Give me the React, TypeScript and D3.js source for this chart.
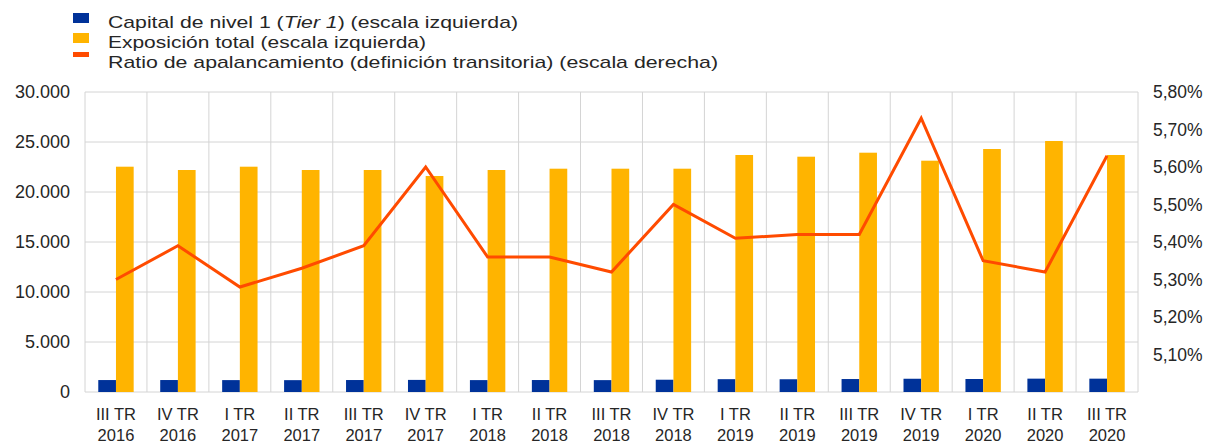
import React from 'react';
import * as d3 from 'd3';

const quarters = [
  ['III TR', '2016'], ['IV TR', '2016'], ['I TR', '2017'], ['II TR', '2017'],
  ['III TR', '2017'], ['IV TR', '2017'], ['I TR', '2018'], ['II TR', '2018'],
  ['III TR', '2018'], ['IV TR', '2018'], ['I TR', '2019'], ['II TR', '2019'],
  ['III TR', '2019'], ['IV TR', '2019'], ['I TR', '2020'], ['II TR', '2020'],
  ['III TR', '2020'],
];
const tier1 = [1195, 1197, 1190, 1185, 1197, 1210, 1190, 1197, 1188, 1228, 1282, 1275, 1297, 1325, 1300, 1335, 1334];
const exposure = [22530, 22200, 22530, 22200, 22200, 21600, 22200, 22330, 22330, 22330, 23700, 23530, 23930, 23130, 24300, 25100, 23700];
const ratio = [5.3, 5.39, 5.28, 5.33, 5.39, 5.6, 5.36, 5.36, 5.32, 5.5, 5.41, 5.42, 5.42, 5.73, 5.35, 5.32, 5.63];

const leftTicks = [0, 5000, 10000, 15000, 20000, 25000, 30000];
const rightTicks = [5.1, 5.2, 5.3, 5.4, 5.5, 5.6, 5.7, 5.8];

const legendItems = [
  { key: 'tier1', color: '#003299', kind: 'box' },
  { key: 'exp', color: '#ffb400', kind: 'box' },
  { key: 'ratio', color: '#ff4b00', kind: 'line' },
];

const W = 1212;
const H = 443;
const margin = { top: 92, right: 74, bottom: 51, left: 85 };
const FONT = '"Liberation Sans", Arial, sans-serif';

export default function App() {
  const innerW = W - margin.left - margin.right;
  const innerH = H - margin.top - margin.bottom;
  const labels = quarters.map(q => q.join(' '));

  const x = d3.scaleBand().domain(labels).range([0, innerW]);
  const xs = d3.scaleBand().domain(['tier1', 'exp']).range([0, x.bandwidth()]).paddingOuter(0.75).paddingInner(0);
  const yL = d3.scaleLinear().domain([0, 30000]).range([innerH, 0]);
  const yR = d3.scaleLinear().domain([5.0, 5.8]).range([innerH, 0]);

  const fmtL = (v: number) => d3.format(',')(v).replace(/,/g, '.');
  const fmtR = (v: number) => v.toFixed(2).replace('.', ',') + '%';

  const line = d3.line<number>()
    .x((_, i) => x(labels[i])! + x.bandwidth() / 2)
    .y(d => yR(d));

  const grid = '#d4d4d4';
  const txt = '#262626';

  return (
    <svg width={W} height={H} style={{ position: 'absolute', left: 0, top: 0, background: '#fff' }}
      fontFamily={FONT}>
      {/* legend */}
      <g>
        {legendItems.map((it, i) => (
          <g key={it.key} transform={`translate(73,${i * 20})`}>
            {it.kind === 'box'
              ? <rect x={0} y={13} width={16} height={10} fill={it.color} />
              : <rect x={0} y={12} width={16} height={5} fill={it.color} />}
          </g>
        ))}
        <text x={108} y={28} fontSize={17} fill={txt} textLength={410} lengthAdjust="spacingAndGlyphs">
          Capital de nivel 1 (<tspan fontStyle="italic">Tier 1</tspan>) (escala izquierda)
        </text>
        <text x={108} y={48} fontSize={17} fill={txt} textLength={318} lengthAdjust="spacingAndGlyphs">Exposición total (escala izquierda)</text>
        <text x={108} y={68} fontSize={17} fill={txt} textLength={610} lengthAdjust="spacingAndGlyphs">Ratio de apalancamiento (definición transitoria) (escala derecha)</text>
      </g>

      <g transform={`translate(${margin.left},${margin.top})`}>
        {/* grid */}
        {leftTicks.map(t => (
          <line key={'h' + t} x1={0} x2={innerW} y1={yL(t)} y2={yL(t)} stroke={grid} strokeWidth={1} />
        ))}
        {labels.map((l, i) => (
          <line key={'v' + i} x1={x(l)} x2={x(l)} y1={0} y2={innerH} stroke={grid} strokeWidth={1} />
        ))}
        <line x1={innerW} x2={innerW} y1={0} y2={innerH} stroke={grid} strokeWidth={1} />

        {/* bars */}
        {labels.map((l, i) => (
          <g key={'b' + i} transform={`translate(${x(l)},0)`}>
            <rect x={xs('tier1')} y={yL(tier1[i])} width={xs.bandwidth()} height={innerH - yL(tier1[i])} fill="#003299" />
            <rect x={xs('exp')} y={yL(exposure[i])} width={xs.bandwidth()} height={innerH - yL(exposure[i])} fill="#ffb400" />
          </g>
        ))}

        {/* ratio line */}
        <path d={line(ratio) || ''} fill="none" stroke="#ff4b00" strokeWidth={3} strokeLinejoin="miter" />

        {/* left axis */}
        {leftTicks.map(t => (
          <text key={'l' + t} x={-15} y={yL(t) + 6} fontSize={18} textAnchor="end" fill={txt}>{fmtL(t)}</text>
        ))}
        {/* right axis */}
        {rightTicks.map(t => (
          <text key={'r' + t} x={innerW + 15} y={yR(t) + 6} fontSize={17.5} textAnchor="start" fill={txt}>{fmtR(t)}</text>
        ))}
        {/* x axis */}
        {quarters.map((q, i) => (
          <text key={'x' + i} x={x(labels[i])! + x.bandwidth() / 2} y={innerH + 28} fontSize={16.5} textAnchor="middle" fill={txt}>
            <tspan x={x(labels[i])! + x.bandwidth() / 2}>{q[0]}</tspan>
            <tspan x={x(labels[i])! + x.bandwidth() / 2} dy={21}>{q[1]}</tspan>
          </text>
        ))}
      </g>
    </svg>
  );
}
